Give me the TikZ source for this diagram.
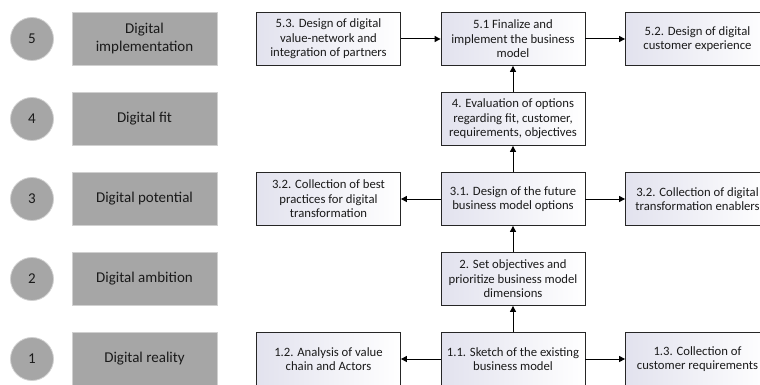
\documentclass[tikz,border=0pt]{standalone}
\usepackage{fontspec}
\setmainfont{Carlito}
\usetikzlibrary{arrows.meta}
\definecolor{stagegray}{HTML}{A6A6A6}
\definecolor{stageedge}{HTML}{D0D0D0}
\definecolor{boxshade}{HTML}{E2E2EE}
\definecolor{txt}{HTML}{1A1A1A}
\tikzset{
  num/.style={circle, fill=stagegray, draw=stageedge, line width=0.8pt, minimum size=43pt, inner sep=0pt, font=\fontsize{15}{17}\selectfont, text=txt},
  stage/.style={rectangle, fill=stagegray, draw=stageedge, line width=0.8pt, minimum width=145pt, minimum height=53pt, inner sep=0pt, align=center, font=\fontsize{15}{18}\selectfont, text=txt},
  stepbox/.style={rectangle, draw=black!85, line width=0.8pt, left color=boxshade, right color=white, minimum width=144pt, minimum height=53pt, inner sep=0pt, align=center, font=\fontsize{12.7}{14.6}\selectfont, text=txt},
  arr/.style={draw=black, line width=1pt, -{Triangle[length=6pt,width=6pt]}}
}
\begin{document}
\begin{tikzpicture}[x=1pt,y=-1pt]
\useasboundingbox (0,0) rectangle (760,385);
\clip (0,0) rectangle (760,385);
% stage circles
\node[num] (n5) at (32,39) {5};
\node[num] (n4) at (32,119) {4};
\node[num] (n3) at (32,199) {3};
\node[num] (n2) at (32,279) {2};
\node[num] (n1) at (32,359) {1};
% stage boxes
\node[stage] (s5) at (144.5,39) {Digital\\implementation};
\node[stage] (s4) at (144.5,119) {Digital fit};
\node[stage] (s3) at (144.5,199) {Digital potential};
\node[stage] (s2) at (144.5,279) {Digital ambition};
\node[stage] (s1) at (144.5,359) {Digital reality};
% step boxes
\node[stepbox] (b53) at (328.5,39) {5.3. Design of digital\\value-network and\\integration of partners};
\node[stepbox] (b51) at (513,39) {5.1 Finalize and\\implement the business\\model};
\node[stepbox] (b52) at (697.5,39) {5.2. Design of digital\\customer experience};
\node[stepbox] (b4) at (513,119) {4. Evaluation of options\\regarding fit, customer,\\requirements, objectives};
\node[stepbox] (b32l) at (328.5,199) {3.2. Collection of best\\practices for digital\\transformation};
\node[stepbox] (b31) at (513,199) {3.1. Design of the future\\business model options};
\node[stepbox] (b32r) at (697.5,199) {3.2. Collection of digital\\transformation enablers};
\node[stepbox] (b2) at (513,279) {2. Set objectives and\\prioritize business model\\dimensions};
\node[stepbox] (b12) at (328.5,359) {1.2. Analysis of value\\chain and Actors};
\node[stepbox] (b11) at (513,359) {1.1. Sketch of the existing\\business model};
\node[stepbox] (b13) at (697.5,359) {1.3. Collection of\\customer requirements};
% connectors
\draw[arr] (b53) -- (b51);
\draw[arr] (b51) -- (b52);
\draw[arr] (b4) -- (b51);
\draw[arr] (b31) -- (b4);
\draw[arr] (b31) -- (b32l);
\draw[arr] (b31) -- (b32r);
\draw[arr] (b2) -- (b31);
\draw[arr] (b11) -- (b2);
\draw[arr] (b11) -- (b12);
\draw[arr] (b11) -- (b13);
\end{tikzpicture}
\end{document}
